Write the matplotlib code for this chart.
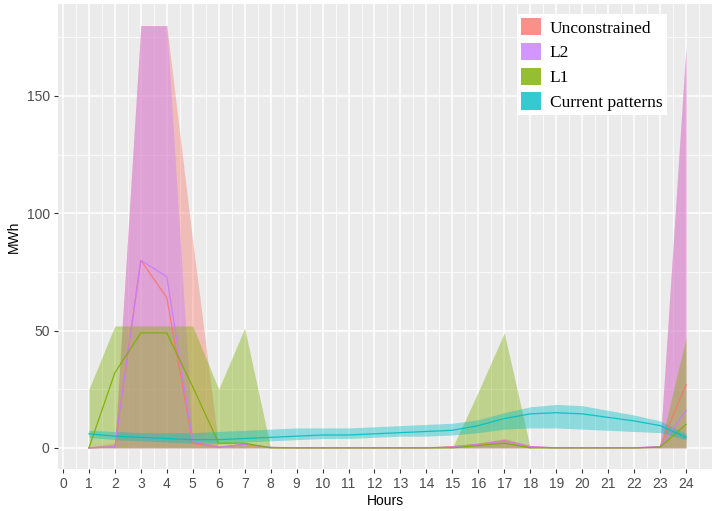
import matplotlib
matplotlib.use("Agg")
import matplotlib.pyplot as plt
from matplotlib.patches import Patch
from matplotlib.ticker import MultipleLocator

hours = list(range(1, 25))

series = ["Unconstrained", "L2", "L1", "Current patterns"]
colors = ["#F8766D", "#C77CFF", "#7CAE00", "#00BFC4"]

# ribbon lower / upper bounds and mean lines
unc_lo = [0] * 24
unc_hi = [0.5, 2, 180, 180, 88, 0.5, 2, 0.3, 0, 0, 0, 0, 0, 0, 1, 2, 4, 1, 0, 0, 0, 0, 1, 170]
unc_mean = [0, 0.5, 80, 64, 2, 0.3, 1.5, 0.2, 0, 0, 0, 0, 0, 0, 0.5, 1.5, 3, 0.5, 0, 0, 0, 0, 0.5, 27]

l2_lo = [0] * 24
l2_hi = [0.5, 1, 180, 180, 3, 0.5, 1, 0.3, 0, 0, 0, 0, 0, 0, 0.5, 1.5, 3, 0.5, 0, 0, 0, 0, 1, 172]
l2_mean = [0, 0.5, 80, 73, 3, 0.2, 1.5, 0.2, 0, 0, 0, 0, 0, 0, 0.3, 1.5, 3, 0.5, 0, 0, 0, 0, 0.5, 16]

l1_lo = [0] * 24
l1_hi = [25, 52, 52, 52, 52, 25, 51, 0, 0, 0, 0, 0, 0, 0, 0, 24, 49, 0, 0, 0, 0, 0, 0.5, 47]
l1_mean = [0, 32, 49, 49, 26, 2, 2, 0, 0, 0, 0, 0, 0, 0, 0, 1, 2, 0, 0, 0, 0, 0, 0.3, 10]

cur_lo = [4.5, 3.5, 3, 2.5, 2, 2, 2.5, 3, 3.5, 4, 4, 4.5, 5, 5, 5.5, 6.5, 8, 8.5, 8.5, 8, 7.5, 7, 6.5, 3.5]
cur_hi = [7.5, 7, 6.5, 6.5, 6.5, 7, 7.5, 8, 8.5, 8.5, 8.5, 9, 9.5, 10, 10.5, 12, 15, 17.5, 18.5, 18, 16, 14, 11.5, 6]
cur_mean = [6, 5, 4.5, 4, 3.5, 3.5, 4, 4.5, 5, 5.5, 5.5, 6, 6.5, 7, 7.5, 9.5, 12.5, 14.5, 15, 14.5, 13, 11.5, 9.5, 4.5]

los = [unc_lo, l2_lo, l1_lo, cur_lo]
his = [unc_hi, l2_hi, l1_hi, cur_hi]
means = [unc_mean, l2_mean, l1_mean, cur_mean]

xticks = list(range(0, 25))
yticks = [0, 50, 100, 150]

fig = plt.figure(figsize=(7.12, 5.11), dpi=100)
ax = fig.add_axes([58 / 712, 1 - 469 / 511, 654 / 712, (469 - 4.5) / 511])
ax.set_facecolor("#EBEBEB")

for lo, hi, c in zip(los, his, colors):
    ax.fill_between(hours, lo, hi, color=c, alpha=0.4, linewidth=0, zorder=2)
for m, c in zip(means, colors):
    ax.plot(hours, m, color=c, linewidth=0.9, alpha=0.9, zorder=3)

ax.set_xlim(-0.19, 25.0)
ax.set_ylim(-9, 189)
ax.set_xticks(xticks)
ax.set_xticklabels([str(t) for t in xticks])
ax.set_yticks(yticks)
ax.set_yticklabels([str(t) for t in yticks])
ax.xaxis.set_minor_locator(MultipleLocator(0.5))
ax.yaxis.set_minor_locator(MultipleLocator(25))
ax.grid(which="major", color="white", linewidth=1.1, zorder=0)
ax.grid(which="minor", color="white", linewidth=0.55, zorder=0)
ax.set_axisbelow(True)
for s in ax.spines.values():
    s.set_visible(False)
ax.tick_params(which="major", length=3, color="#333333", labelcolor="#4D4D4D",
               labelsize=10, pad=3)
ax.tick_params(which="minor", length=0)
for lab in ax.get_xticklabels() + ax.get_yticklabels():
    lab.set_family(["Liberation Sans", "DejaVu Sans"])

ax.set_xlabel("Hours", fontsize=10, family=["Liberation Sans", "DejaVu Sans"], labelpad=2)
ax.set_ylabel("MWh", fontsize=10, family=["Liberation Sans", "DejaVu Sans"], labelpad=4)

handles = [Patch(facecolor=c, alpha=0.8, edgecolor="none") for c in colors]
leg = ax.legend(handles, series, loc="upper right", bbox_to_anchor=(0.931, 0.98),
                frameon=True, fancybox=False, framealpha=1, edgecolor="white",
                prop={"family": "Liberation Serif", "size": 12.5},
                handlelength=1.15, handleheight=1.15, handletextpad=0.5,
                labelspacing=0.36, borderpad=0.25, borderaxespad=0)
leg.get_frame().set_linewidth(0)

fig.savefig("out.png", dpi=100)
